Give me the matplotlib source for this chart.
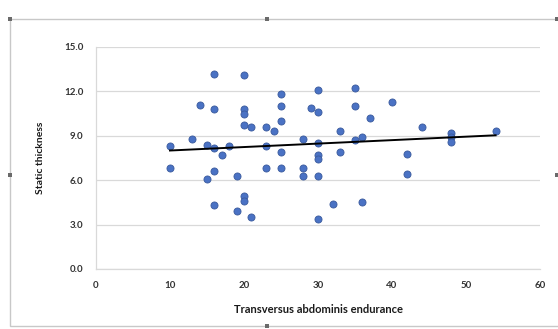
"""Static thickness vs transversus abdominis endurance, Excel-like scatter with linear trendline"""
import numpy as np
import matplotlib.pyplot as plt
from matplotlib.patches import Rectangle

# values
endurance = [10, 10, 13, 14, 15, 15, 16, 16, 16, 16, 16, 17, 18, 19, 19,
             20, 20, 20, 20, 20, 20, 21, 21, 23, 23, 23, 24, 25, 25, 25,
             25, 25, 28, 28, 28, 29, 30, 30, 30, 30, 30, 30, 30, 32, 33,
             33, 35, 35, 35, 36, 36, 37, 40, 42, 42, 44, 48, 48, 48, 54]
thickness = [8.3, 6.8, 8.8, 11.1, 8.4, 6.1, 13.2, 10.8, 8.2, 6.6, 4.3, 7.7, 8.3, 6.3, 3.9,
             13.1, 10.8, 10.5, 9.7, 4.9, 4.6, 9.6, 3.5, 9.6, 8.3, 6.8, 9.3, 11.8, 11.0, 10.0,
             7.9, 6.8, 8.8, 6.8, 6.3, 10.9, 12.1, 10.6, 8.5, 7.7, 7.4, 6.3, 3.4, 4.4, 9.3,
             7.9, 12.2, 11.0, 8.7, 8.9, 4.5, 10.2, 11.3, 7.8, 6.4, 9.6, 9.2, 8.9, 8.6, 9.3]

x_ticks = [0, 10, 20, 30, 40, 50, 60]
y_ticks = [0, 3, 6, 9, 12, 15]

plt.rcParams['font.family'] = ['Lato', 'DejaVu Sans']

W, H = 558, 329
fig = plt.figure(figsize=(W / 100, H / 100), dpi=100)

# chart frame with selection handles (pixel coords)
deco = fig.add_axes([0, 0, 1, 1], zorder=0)
deco.set_xlim(0, W)
deco.set_ylim(H, 0)
deco.axis('off')
deco.add_patch(Rectangle((10, 19), W - 9, 307, fill=False, ec='#c8c8c8', lw=1.0))
hx = [10, 267, 557, 10, 557, 267]
hy = [19, 19, 19, 175, 175, 326]
deco.plot(hx, hy, 's', color='#6a6a6a', markersize=3, markeredgewidth=0)

ax = fig.add_axes([96 / W, 1 - 269 / H, 444 / W, 222 / H], zorder=1)
ax.patch.set_alpha(0)

ax.scatter(endurance, thickness, s=26, color='#4a72c4', edgecolors='#3a5a9c',
           linewidths=0.6, zorder=3)

# linear trendline over the data range
k, b = np.polyfit(endurance, thickness, 1)
xs = np.array([min(endurance), max(endurance)])
ax.plot(xs, k * xs + b, color='black', lw=1.4, zorder=4)

ax.set_xlim(0, 60)
ax.set_ylim(0, 15)
ax.set_xticks(x_ticks)
ax.set_yticks(y_ticks)
ax.set_yticklabels([f"{v:.1f}" for v in y_ticks])
ax.yaxis.grid(True, color='#d9d9d9', lw=0.9)
ax.set_axisbelow(True)
ax.tick_params(length=0, labelsize=7, labelcolor='#333333', pad=9)
for t in ax.get_xticklabels() + ax.get_yticklabels():
    t.set_fontweight('bold')
for side in ['top', 'right']:
    ax.spines[side].set_visible(False)
for side in ['left', 'bottom']:
    ax.spines[side].set_color('#d9d9d9')
    ax.spines[side].set_linewidth(0.9)

ax.set_xlabel("Transversus abdominis endurance", fontsize=8, fontweight='bold',
              color='#1a1a1a', labelpad=10)
ax.set_ylabel("Static thickness", fontsize=7.5, fontweight='bold',
              color='#1a1a1a', labelpad=14)

fig.savefig("out.png", dpi=100)
